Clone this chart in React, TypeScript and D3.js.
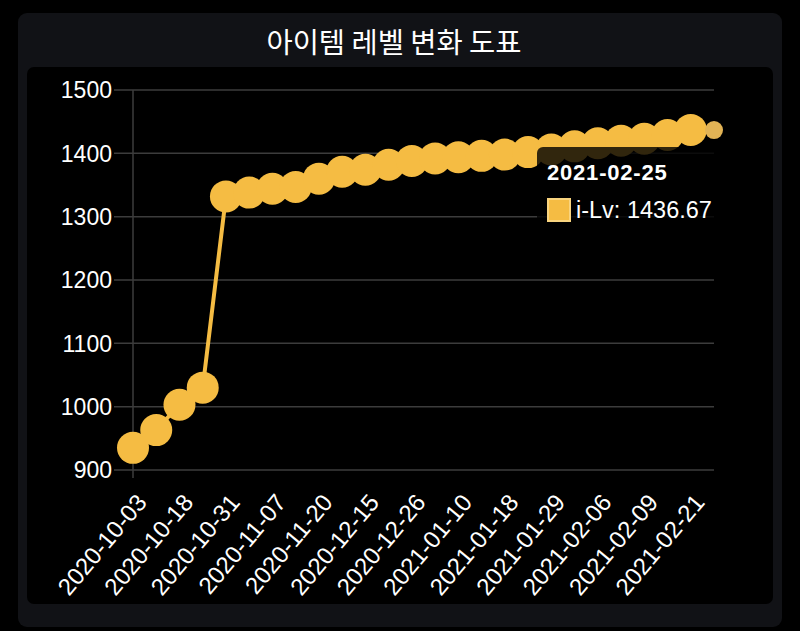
import React from 'react';
import * as d3 from 'd3';

// dates of each record (only every other one is labelled on the axis)
const dates = [
  '2020-10-03', '2020-10-10', '2020-10-18', '2020-10-25', '2020-10-31', '2020-11-03',
  '2020-11-07', '2020-11-14', '2020-11-20', '2020-12-01', '2020-12-15', '2020-12-20',
  '2020-12-26', '2021-01-03', '2021-01-10', '2021-01-14', '2021-01-18', '2021-01-24',
  '2021-01-29', '2021-02-02', '2021-02-06', '2021-02-08', '2021-02-09', '2021-02-15',
  '2021-02-21', '2021-02-25',
];
const itemLevels = [
  935, 963, 1003, 1030, 1332, 1338, 1344, 1347, 1360, 1371, 1374, 1382,
  1388, 1392, 1394, 1396, 1398, 1402, 1406, 1411, 1416, 1420, 1423, 1429,
  1437, 1436.67,
];
const yTicks = [900, 1000, 1100, 1200, 1300, 1400, 1500];

const title = '아이템 레벨 변화 도표';
const seriesName = 'i-Lv';
const hoverIndex = dates.length - 1;

const yellow = '#f5bc43';
const font = '"Liberation Sans", Arial, sans-serif';

export default function App() {
  const x = d3.scalePoint<string>().domain(dates).range([133, 714]);
  const y = d3.scaleLinear().domain([900, 1500]).range([470, 90]);
  const line = d3.line<number>()
    .x((d, i) => x(dates[i]) as number)
    .y(d => y(d));

  const hx = x(dates[hoverIndex]) as number;
  const hy = y(itemLevels[hoverIndex]);

  return (
    <svg width={800} height={631} style={{ position: 'absolute', left: 0, top: 0, background: '#000' }}>
      <rect x={18} y={13} width={764} height={614} rx={9} fill="#111216" />
      <text x={394} y={53} textAnchor="middle" fill="#fff"
        style={{ font: '28.5px "Noto Sans CJK KR", sans-serif' }}>{title}</text>
      <rect x={27} y={67} width={746} height={537} rx={7} fill="#000" />

      {yTicks.map(t => (
        <g key={t}>
          <line x1={114} x2={714} y1={y(t)} y2={y(t)} stroke="#3c3c3c" strokeWidth={1.5} />
          <text x={112} y={y(t)} dy="0.36em" textAnchor="end" fill="#fff"
            style={{ font: `23px ${font}` }}>{t}</text>
        </g>
      ))}
      <line x1={133} x2={133} y1={90} y2={478} stroke="#3c3c3c" strokeWidth={1.5} />

      {dates.map((d, i) => i % 2 === 0 ? (
        <text key={d} transform={`translate(${(x(d) as number) + 15},503) rotate(-50)`}
          textAnchor="end" fill="#fff" style={{ font: `24px ${font}` }}>{d}</text>
      ) : null)}

      <path d={line(itemLevels) || ''} fill="none" stroke={yellow} strokeWidth={4} />
      {itemLevels.map((v, i) => i === hoverIndex ? null : (
        <circle key={i} cx={x(dates[i]) as number} cy={y(v)} r={16} fill={yellow} />
      ))}
      <circle cx={hx} cy={hy} r={9} fill="#e2b355" />

      {/* tooltip */}
      <rect x={537} y={147} width={190} height={86} rx={6} fill="rgba(0,0,0,0.8)" />
      <text x={547} y={180} fill="#fff" letterSpacing={0.8}
        style={{ font: `bold 22px ${font}` }}>{dates[hoverIndex]}</text>
      <rect x={548} y={199} width={22} height={22} fill={yellow} stroke="#f9d47f" strokeWidth={2} />
      <text x={576} y={218} fill="#fff" style={{ font: `23.5px ${font}` }}>
        {`${seriesName}: ${itemLevels[hoverIndex]}`}
      </text>
    </svg>
  );
}
